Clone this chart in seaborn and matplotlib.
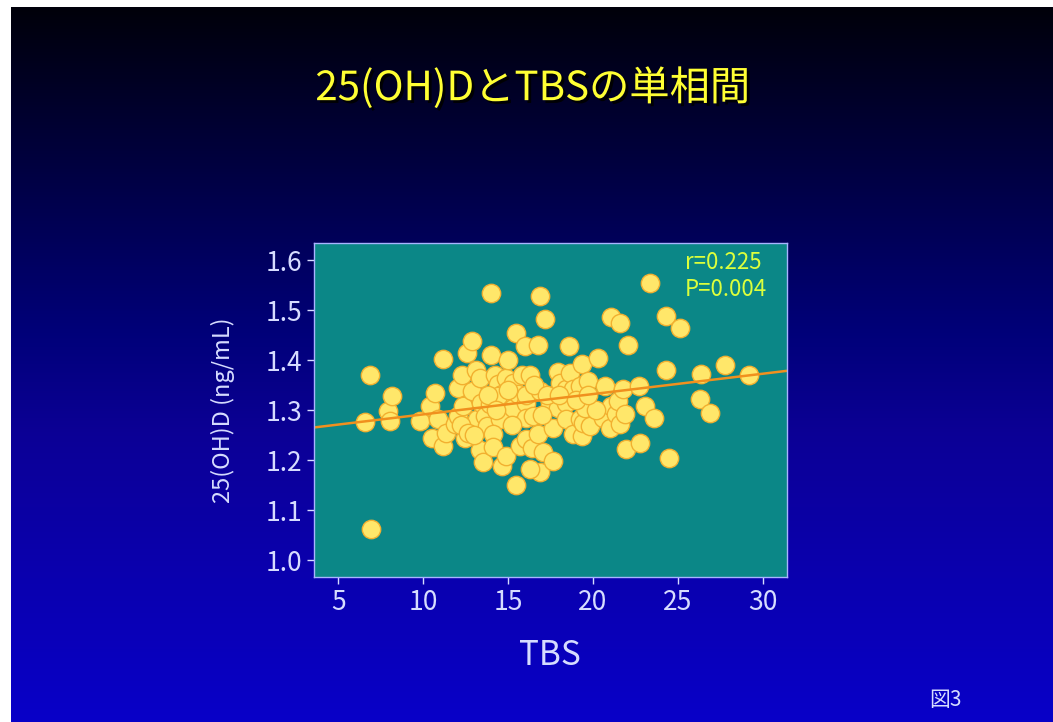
import numpy as np
import pandas as pd
import seaborn as sns
import matplotlib.pyplot as plt
import matplotlib.patheffects as pe
from matplotlib.colors import LinearSegmentedColormap

# values (TBS vs 25(OH)D)
tbs = [6.57, 6.86, 6.90, 7.94, 8.04, 8.14, 9.80, 10.39, 10.69, 10.49,
       10.88, 11.14, 11.14, 11.37, 11.86, 12.06, 12.06, 12.26, 12.35, 12.45,
       12.59, 12.85, 12.85, 13.10, 13.33, 13.14, 13.43, 13.63, 13.73, 13.33,
       13.53, 13.92, 14.02, 14.02, 14.22, 14.41, 14.61, 14.51, 14.12, 14.12,
       14.61, 14.90, 14.90, 15.00, 15.30, 15.30, 15.45, 15.59, 15.69, 15.49,
       15.79, 15.97, 16.08, 16.08, 16.08, 16.08, 16.30, 16.47, 16.40, 16.76,
       16.76, 16.86, 16.86, 16.86, 16.28, 17.06, 17.15, 17.45, 17.65, 17.65,
       17.94, 17.94, 18.04, 18.43, 18.43, 18.43, 18.59, 18.63, 18.82, 18.82,
       19.22, 19.22, 19.32, 19.32, 19.41, 19.51, 19.71, 19.80, 20.29, 20.59,
       20.69, 20.98, 21.08, 21.08, 21.37, 21.47, 21.57, 21.57, 21.76, 21.86,
       21.96, 22.06, 22.71, 22.78, 23.04, 23.33, 23.57, 24.28, 24.32, 24.47,
       25.10, 26.28, 26.37, 26.90, 27.75, 29.18,
       12.20, 12.65, 14.41, 13.80, 14.30, 15.00, 16.50, 17.30, 18.00, 19.00,
       20.20, 13.00, 15.20, 17.00, 19.70]
vitd = [1.277, 1.370, 1.063, 1.298, 1.279, 1.328, 1.279, 1.308, 1.334, 1.244,
        1.282, 1.403, 1.229, 1.255, 1.272, 1.345, 1.289, 1.371, 1.308, 1.245,
        1.415, 1.438, 1.338, 1.381, 1.364, 1.282, 1.315, 1.289, 1.269, 1.220,
        1.196, 1.312, 1.534, 1.411, 1.371, 1.352, 1.332, 1.282, 1.252, 1.226,
        1.189, 1.209, 1.365, 1.400, 1.355, 1.305, 1.454, 1.332, 1.229, 1.150,
        1.371, 1.428, 1.315, 1.285, 1.242, 1.330, 1.370, 1.289, 1.225, 1.431,
        1.252, 1.528, 1.338, 1.176, 1.183, 1.216, 1.482, 1.315, 1.265, 1.199,
        1.376, 1.305, 1.355, 1.342, 1.315, 1.282, 1.429, 1.375, 1.342, 1.252,
        1.348, 1.282, 1.393, 1.249, 1.275, 1.305, 1.358, 1.269, 1.404, 1.285,
        1.348, 1.265, 1.486, 1.308, 1.292, 1.318, 1.475, 1.272, 1.343, 1.292,
        1.222, 1.431, 1.348, 1.234, 1.308, 1.555, 1.285, 1.380, 1.489, 1.204,
        1.464, 1.322, 1.373, 1.294, 1.391, 1.371,
        1.270, 1.255, 1.328, 1.330, 1.300, 1.340, 1.350, 1.330, 1.330, 1.320,
        1.300, 1.250, 1.270, 1.290, 1.330]

x_ticks = [5, 10, 15, 20, 25, 30]
y_ticks = [1.0, 1.1, 1.2, 1.3, 1.4, 1.5, 1.6]

df = pd.DataFrame({'TBS': tbs, 'vitd': vitd})

sns.set_style('ticks')
plt.rcParams['font.family'] = ['Noto Sans CJK JP', 'DejaVu Sans']

fig = plt.figure(figsize=(10.53, 7.22), dpi=100)
fig.patch.set_facecolor('white')

# slide background gradient
bg = fig.add_axes([11 / 1053, 0, 1 - 11 / 1053, 715 / 722])
cmap = LinearSegmentedColormap.from_list(
    'slide', [(0.0, '#00000a'), (0.45, '#000078'), (0.6, '#0c0096'), (1.0, '#0800c8')])
bg.imshow(np.linspace(0, 1, 256).reshape(-1, 1), aspect='auto', cmap=cmap,
          extent=[0, 1, 0, 1])
bg.axis('off')

ax = fig.add_axes([314 / 1053, 145 / 722, 472.7 / 1053, 334 / 722])
ax.set_facecolor('#0b8787')
ax.set_xlim(3.57, 31.4)
ax.set_ylim(0.966, 1.635)
sns.regplot(data=df, x='TBS', y='vitd', ax=ax, ci=None, truncate=False,
            scatter_kws=dict(s=175, color='#ffe76a', edgecolor='#f2b030',
                             linewidths=1.0, alpha=1),
            line_kws=dict(color='#f0901e', lw=1.8))

ax.set_xlim(3.57, 31.4)
ax.set_ylim(0.966, 1.635)
ax.set_xticks(x_ticks)
ax.set_yticks(y_ticks)
ax.set_yticklabels([f'{v:.1f}' for v in y_ticks])

light = '#d6dcff'
ax.tick_params(colors=light, labelsize=19, length=5, width=1, direction='out')
for s in ax.spines.values():
    s.set_color('#a8b4ff')
    s.set_linewidth(1)

ax.set_xlabel('TBS', color=light, fontsize=24, labelpad=16)
ax.set_ylabel('25(OH)D (ng/mL)', color=light, fontsize=17, labelpad=22)

ax.text(0.785, 0.975, 'r=0.225\nP=0.004', transform=ax.transAxes,
        color='#dcff3c', fontsize=16, va='top', ha='left', linespacing=1.2)

fig.text(0.506, 0.878, '25(OH)DとTBSの単相間', color='#ffff33', fontsize=29,
         ha='center', va='center',
         path_effects=[pe.withSimplePatchShadow(offset=(2, -2), shadow_rgbFace='black', alpha=0.9)])

fig.text(0.898, 0.031, '図3', color=light, fontsize=15, ha='center', va='center')

fig.savefig('out.png', dpi=100)
